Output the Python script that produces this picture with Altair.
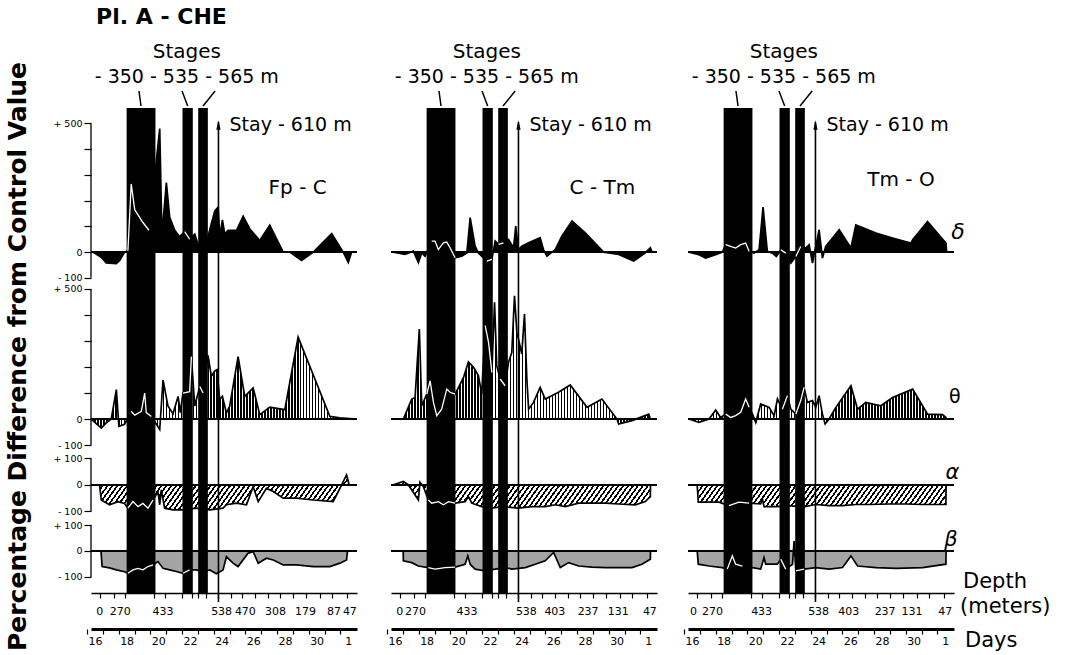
import altair as alt
import pandas as pd

FONT = "DejaVu Sans"

# ------------------------------------------------------------------ data
COLUMN_NAMES = ["Fp - C", "C - Tm", "Tm - O"]
LABEL_DAY = [28.8, 29.1, 29.2]
LABEL_VAL = [250, 250, 280]

STAGE_LABELS = "- 350 - 535 - 565 m"
STAGE_START = [18.00, 21.53, 22.52]
STAGE_END = [19.82, 22.18, 23.13]
LEADER_TOP = [18.78, 21.50, 23.59]
STAY_DAY = [23.80]

DAY_TICKS = list(range(16, 34))
DEPTH_TICKS = [16.3, 17.2, 17.9, 19.7, 20.4, 21.5, 22.1, 22.5, 23.0, 23.8, 24.6,
               25.3, 26.1, 26.9, 27.7, 28.5, 29.3, 30.2, 31.0, 31.9]
DEPTH_LABELS = [["0", "270", "433", "538", "470", "308", "179", "87", "47"],
                ["0", "270", "433", "538", "403", "237", "131", "47"],
                ["0", "270", "433", "538", "403", "237", "131", "47"]]
DEPTH_LABEL_DAYS = [[16.3, 17.6, 20.3, 24.0, 25.5, 27.4, 29.3, 31.1, 32.1],
                    [16.3, 17.3, 20.55, 24.3, 26.1, 28.2, 30.1, 32.1],
                    [16.1, 17.3, 20.4, 24.0, 25.9, 28.2, 29.9, 32.0]]

# Fp-C
FPC_D_DAY = [15.87, 16.40, 16.71, 17.35, 17.56, 17.87, 18.08, 18.29, 18.51, 19.03, 19.41, 20.09, 20.23, 20.51,
             20.72, 21.04, 21.35, 21.67, 21.98, 22.30, 22.51, 22.83, 23.14, 23.35, 23.57, 23.78, 23.88, 24.05,
             24.20, 24.41, 24.94, 25.36, 25.78, 26.41, 27.04, 27.89, 28.31, 29.05, 29.79, 30.95, 31.68, 32.00, 32.21]
FPC_D_VAL = [0, -20, -42, -45, -32, 0, 5, 265, 165, 115, 85, 480, 65, 270, 135, 85, 60, 80, 50, 70, 30, 25, 60,
             110, 160, 175, 60, 125, 70, 85, 85, 140, 90, 45, 105, 0, 0, -32, 0, 72, 0, -40, 0]
FPC_T_DAY = [15.76, 16.40, 16.71, 17.03, 17.35, 17.51, 17.87, 18.29, 18.51, 18.93, 19.14, 19.24, 19.56, 19.88,
             20.09, 20.30, 20.61, 20.93, 21.25, 21.39, 21.56, 21.98, 22.09, 22.30, 22.62, 22.83, 23.14, 23.35,
             23.57, 23.71, 23.88, 24.05, 24.30, 24.51, 25.04, 25.46, 25.99, 26.41, 27.04, 27.99, 28.83, 30.84,
             31.47, 32.53]
FPC_T_VAL = [0, -35, -15, 0, 113, -28, -20, 30, 15, 30, 100, 25, 10, -20, -40, 150, 50, 20, 87, 25, 100, 105,
             240, 50, 125, 100, 245, 165, 185, 190, 75, 87, 23, 50, 240, 87, 120, 17, 46, 36, 315, 10, 5, 0]
FPC_A_DAY = [16.29, 16.40, 16.92, 17.45, 17.87, 18.08, 18.40, 18.72, 19.03, 19.35, 19.67, 19.98, 20.09, 20.19,
             20.40, 20.93, 21.56, 22.41, 23.25, 24.09, 24.30, 24.94, 25.57, 25.99, 26.31, 26.83, 27.26, 27.89,
             28.73, 29.79, 31.05, 31.58, 31.89, 32.00, 32.05]
FPC_A_VAL = [0, -57, -75, -63, -70, -88, -63, -82, -70, -88, -57, -25, -75, -19, -88, -94, -94, -88, -94, -88,
             -75, -69, -75, -6, -63, -13, -25, -50, -50, -57, -63, 0, 38, 13, 0]
FPC_B_DAY = [16.38, 16.45, 16.92, 17.35, 17.87, 18.08, 18.40, 18.72, 19.03, 19.35, 19.67, 19.98, 20.30, 20.72,
             21.14, 21.56, 21.98, 22.41, 22.83, 23.25, 23.67, 24.09, 24.30, 24.72, 25.04, 25.67, 25.99, 26.31,
             26.83, 27.26, 27.89, 28.73, 29.79, 30.84, 31.47, 31.89, 31.95]
FPC_B_VAL = [0, -60, -65, -73, -80, -86, -73, -67, -73, -60, -54, -41, -67, -73, -79, -86, -73, -73, -79, -73,
             -88, -73, -22, -47, -60, -9, -3, -47, -28, -35, -54, -54, -60, -60, -47, -35, 0]

# C-Tm
CTM_D_DAY = [15.90, 16.63, 17.16, 17.48, 17.69, 17.90, 18.32, 18.53, 18.74, 19.06, 19.27, 19.48, 19.80, 20.22,
             20.54, 20.75, 21.06, 21.27, 21.48, 21.80, 22.12, 22.33, 22.54, 22.85, 23.17, 23.49, 23.63, 23.80,
             24.01, 24.44, 25.17, 25.38, 25.60, 26.12, 26.54, 27.18, 28.02, 29.18, 30.13, 31.08, 31.81, 32.13, 32.24]
CTM_D_VAL = [0, -9, 4, -41, -3, -16, 43, 43, 10, 36, 39, 17, -22, -16, -3, 134, 23, -3, -16, -35, -28, 43, 30,
             36, 49, 17, 101, 10, 23, 36, 56, 10, -16, 10, 62, 121, 75, 0, -9, -35, -3, 17, 0]
CTM_T_DAY = [15.90, 16.53, 17.06, 17.27, 17.54, 17.69, 18.01, 18.22, 18.43, 18.64, 18.95, 19.27, 19.48, 19.80,
             20.33, 20.64, 20.96, 21.27, 21.48, 21.70, 21.91, 22.12, 22.29, 22.43, 22.64, 22.96, 23.17, 23.38,
             23.55, 23.70, 23.80, 24.01, 24.18, 24.33, 24.44, 24.75, 25.17, 25.49, 26.33, 27.07, 28.13, 29.07,
             30.02, 30.13, 30.97, 32.03, 32.13]
CTM_T_VAL = [0, 0, 77, 83, 346, 51, 96, 147, 64, 13, 38, 115, 103, 96, 160, 220, 199, 167, 96, 359, 295, 179,
             449, 205, 154, 128, 218, 256, 474, 333, 308, 250, 404, 154, 38, 64, 122, 77, 103, 131, 45, 77, 0,
             -19, -6, 19, 0]
CTM_A_DAY = [15.90, 16.53, 16.85, 17.48, 17.58, 17.79, 18.11, 18.32, 18.74, 19.06, 19.38, 19.80, 20.43, 20.64,
             20.85, 21.48, 22.12, 22.75, 23.80, 24.65, 25.49, 26.12, 26.76, 27.60, 28.44, 29.29, 30.13, 31.18,
             31.81, 32.13, 32.14]
CTM_A_VAL = [0, 13, 0, -57, 10, -6, -57, -69, -63, -75, -63, -69, -63, -44, -69, -82, -88, -82, -88, -82, -82,
             -75, -82, -69, -69, -69, -72, -75, -63, -44, 0]
CTM_B_DAY = [16.52, 16.53, 17.06, 17.48, 18.11, 18.53, 19.17, 19.80, 20.43, 20.60, 20.75, 21.06, 21.70, 22.33,
             22.96, 23.38, 24.23, 24.86, 25.49, 26.02, 26.44, 26.97, 27.60, 28.44, 29.29, 30.13, 30.97, 31.60,
             32.13, 32.14]
CTM_B_VAL = [0, -38, -45, -58, -64, -70, -64, -62, -51, -19, -51, -70, -77, -70, -64, -70, -64, -51, -38, -6,
             -64, -45, -58, -62, -64, -64, -64, -51, -32, 0]

# Tm-O
TMO_D_DAY = [15.81, 16.44, 16.86, 17.50, 17.92, 18.13, 18.45, 18.76, 19.08, 19.39, 19.61, 19.92, 20.24, 20.49,
             20.76, 21.08, 21.33, 21.61, 21.92, 22.24, 22.56, 22.87, 23.19, 23.40, 23.61, 23.82, 24.03, 24.24,
             24.45, 25.30, 26.04, 26.35, 27.62, 28.67, 29.83, 29.94, 30.88, 32.04, 32.09]
TMO_D_VAL = [0, -10, -23, -10, 0, 29, 22, 16, 29, 35, 3, -4, 9, 175, 3, -4, -17, 9, -4, -43, -17, 22, 16, 29,
             -43, 22, 87, -23, 22, 87, 16, 106, 74, 55, 35, 48, 119, 35, 0]
TMO_T_DAY = [15.81, 16.44, 17.08, 17.50, 17.81, 18.13, 18.45, 18.76, 19.08, 19.39, 19.61, 19.82, 20.03, 20.34,
             20.87, 21.19, 21.40, 21.71, 22.03, 22.24, 22.56, 22.87, 23.08, 23.29, 23.61, 23.82, 24.03, 24.24,
             24.41, 24.66, 25.09, 26.04, 26.46, 26.98, 27.93, 28.67, 29.94, 30.88, 31.83, 32.04, 32.05]
TMO_T_VAL = [0, -13, 0, 35, 6, 19, 6, 13, 26, 77, 45, 19, -13, 58, 45, 13, 77, 38, 90, 38, 19, 71, 122, 64, 71,
             45, 90, 19, -19, 0, 45, 128, 38, 64, 51, 83, 115, 19, 17, 6, 0]
TMO_A_DAY = [16.33, 16.40, 17.08, 17.71, 18.34, 18.97, 19.61, 20.34, 20.45, 20.55, 21.29, 22.14, 22.98, 23.82,
             24.66, 25.51, 26.35, 27.20, 28.46, 29.51, 30.57, 32.04, 32.05]
TMO_A_VAL = [0, -65, -65, -65, -78, -65, -69, -72, -53, -82, -82, -78, -84, -74, -78, -78, -74, -74, -72, -72,
             -74, -74, 0]
TMO_B_DAY = [16.33, 16.40, 17.08, 17.92, 18.23, 18.55, 18.76, 19.18, 19.82, 20.34, 20.55, 20.66, 21.40, 21.61,
             21.92, 22.35, 22.45, 22.56, 23.08, 23.82, 24.66, 25.51, 26.04, 26.46, 27.62, 28.88, 30.57, 32.04, 32.05]
TMO_B_VAL = [0, -51, -58, -64, -70, -19, -51, -58, -64, -70, -26, -51, -51, -32, -70, -51, 38, -77, -70, -64,
             -70, -64, -19, -58, -64, -67, -64, -51, 0]

SERIES = [
    [(FPC_D_DAY, FPC_D_VAL), (FPC_T_DAY, FPC_T_VAL), (FPC_A_DAY, FPC_A_VAL), (FPC_B_DAY, FPC_B_VAL)],
    [(CTM_D_DAY, CTM_D_VAL), (CTM_T_DAY, CTM_T_VAL), (CTM_A_DAY, CTM_A_VAL), (CTM_B_DAY, CTM_B_VAL)],
    [(TMO_D_DAY, TMO_D_VAL), (TMO_T_DAY, TMO_T_VAL), (TMO_A_DAY, TMO_A_VAL), (TMO_B_DAY, TMO_B_VAL)],
]
for col in SERIES:
    for d, v in col:
        assert len(d) == len(v)

# ------------------------------------------------------------------ layout / style
X_DOMAIN = [15.75, 32.55]
W = 266
H_HEAD, H_SCALE = 108, 36
PX_PER_DAY = W / (X_DOMAIN[1] - X_DOMAIN[0])

BANDS = [
    dict(key="delta", symbol="δ", domain=[-120, 560], height=175, ticks=[-100, 0, 100, 200, 300, 400, 500],
         top=500, sym_day=32.8, sym_val=80, sym_size=22, sym_style="italic"),
    dict(key="theta", symbol="θ", domain=[-119, 523], height=167, ticks=[-100, 0, 100, 200, 300, 400, 500],
         top=500, sym_day=32.6, sym_val=85, sym_size=19, sym_style="normal"),
    dict(key="alpha", symbol="α", domain=[-125, 132], height=68, ticks=[-100, 0, 100],
         top=100, sym_day=32.45, sym_val=45, sym_size=21, sym_style="italic"),
    dict(key="beta", symbol="β", domain=[-162, 127], height=75, ticks=[-100, 0, 100],
         top=100, sym_day=32.35, sym_val=42, sym_size=21, sym_style="italic"),
]


def stripes(n, frac, x2, y2, dark="black", light="white"):
    stops = []
    for i in range(n):
        a, b, c = i / n, (i + frac) / n, (i + 1) / n
        stops += [alt.GradientStop(color=dark, offset=a), alt.GradientStop(color=dark, offset=b),
                  alt.GradientStop(color=light, offset=b), alt.GradientStop(color=light, offset=c)]
    return alt.LinearGradient(gradient="linear", stops=stops, x1=0, y1=0, x2=x2, y2=y2)


def fill_for(band, days, vals):
    w = (max(days) - min(days)) * PX_PER_DAY
    if band["key"] == "delta":
        return "black"
    if band["key"] == "theta":
        return stripes(max(10, round(w / 3.0)), 0.5, 1, 0)
    if band["key"] == "alpha":
        px_val = band["height"] / (band["domain"][1] - band["domain"][0])
        h = (max(max(vals), 0) - min(min(vals), 0)) * px_val
        k = 1.4
        b = h / (k * w)
        c = (1 + b) / (1 + b * b)
        n = max(10, round(w * c * (1 + b * b) / (4.0 * (1 + 1 / k ** 2) ** 0.5)))
        return stripes(n, 0.42, c, c * b)
    return "#a4a4a4"


XS = alt.Scale(domain=X_DOMAIN, nice=False, zero=False)


def xq(field, axis=None):
    return alt.X(field, type="quantitative", scale=XS, axis=axis)


STAGE_DF = pd.DataFrame({"start": STAGE_START, "end": STAGE_END,
                         "top": LEADER_TOP,
                         "mid": [(s + e) / 2 for s, e in zip(STAGE_START, STAGE_END)]})
STAY_DF = pd.DataFrame({"day": STAY_DAY})


def inside_bars(days, vals):
    rows = []
    for d, v in zip(days, vals):
        for i, (s, e) in enumerate(zip(STAGE_START, STAGE_END)):
            if s < d < e:
                rows.append({"day": d, "v": v, "seg": i})
    if not rows:
        return pd.DataFrame({"day": [0.0], "v": [0.0], "seg": [-1]}).iloc[0:0]
    return pd.DataFrame(rows)


DEPTH_AXIS = alt.Axis(values=DEPTH_TICKS, labels=False, domainColor="black", domainWidth=1.5,
                      tickColor="black", tickSize=5, tickWidth=1.2, title=None, grid=False)

DAYS_AXIS = alt.Axis(values=DAY_TICKS, tickOffset=-PX_PER_DAY / 2, labelOffset=PX_PER_DAY / 2,
                     labelExpr="datum.value % 2 == 0 && datum.value <= 32 ? (datum.value == 32 ? '1' : datum.label) : ''",
                     domainColor="black", domainWidth=3, tickColor="black", tickWidth=1.2, tickSize=5,
                     labelFontSize=11, labelPadding=1, labelColor="black", labelFont=FONT,
                     labelOverlap=False, labelFlush=False, title=None, grid=False)


def band_panel(ci, band, days, vals):
    H = band["height"]
    ys = alt.Scale(domain=band["domain"], nice=False, zero=False)
    top = band["top"]
    if ci == 0:
        yaxis = alt.Axis(values=band["ticks"], domain=False, tickColor="black", tickSize=7, tickWidth=1.2,
                         labelExpr=f"datum.value == {top} ? '+ {top}' : datum.value == 0 ? '0' : "
                                   f"datum.value == -100 ? '- 100' : ''",
                         labelFontSize=9.5, labelColor="black", labelFont=FONT, labelPadding=2,
                         labelOverlap=False, title=None, grid=False)
    else:
        yaxis = None
    xaxis = DEPTH_AXIS if band["key"] == "beta" else None

    def X(f):
        return xq(f, xaxis)

    def Y(f):
        return alt.Y(f, type="quantitative", scale=ys, axis=yaxis)

    df = pd.DataFrame({"day": days, "v": vals})
    layers = [
        alt.Chart(df).mark_area(fill=fill_for(band, days, vals), interpolate="linear").encode(
            x=X("day"), y=Y("v"), y2=alt.datum(0)),
        alt.Chart(pd.DataFrame({"z": [0]})).mark_rule(color="black", strokeWidth=2).encode(y=Y("z")),
        alt.Chart(df).mark_line(color="black", strokeWidth=1.7, interpolate="linear").encode(
            x=X("day"), y=Y("v")),
        alt.Chart(STAGE_DF).mark_rect(color="black").encode(
            x=X("start"), x2="end:Q", y=alt.value(0), y2=alt.value(H)),
        alt.Chart(STAY_DF).mark_rule(color="black", strokeWidth=1.6).encode(
            x=X("day"), y=alt.value(14 if band["key"] == "delta" else 0), y2=alt.value(H)),
        alt.Chart(inside_bars(days, vals)).mark_line(color="white", strokeWidth=1.3).encode(
            x=X("day"), y=Y("v"), detail="seg:N"),
    ]
    if ci == 0:
        layers.append(alt.Chart(pd.DataFrame({"lo": [-100], "hi": [top]})).mark_rule(
            color="black", strokeWidth=1.3).encode(x=alt.value(0), y=Y("lo"), y2="hi:Q"))
    if band["key"] == "delta":
        layers.append(alt.Chart(STAY_DF).mark_point(
            shape="M -0.45 1 L 0 -1 L 0.45 1 Z", filled=True, color="black", size=90, opacity=1).encode(
            x=X("day"), y=alt.value(17)))
        layers.append(alt.Chart(pd.DataFrame({"day": [24.5], "v": [493], "t": ["Stay - 610 m"]})).mark_text(
            font=FONT, fontSize=19, align="left", baseline="middle", color="black").encode(
            x=X("day"), y=Y("v"), text="t:N"))
        layers.append(alt.Chart(pd.DataFrame({"day": [LABEL_DAY[ci]], "v": [LABEL_VAL[ci]],
                                              "t": [COLUMN_NAMES[ci]]})).mark_text(
            font=FONT, fontSize=20, align="center", baseline="middle", color="black").encode(
            x=X("day"), y=Y("v"), text="t:N"))
    if ci == 2:
        layers.append(alt.Chart(pd.DataFrame({"day": [band["sym_day"]], "v": [band["sym_val"]],
                                              "t": [band["symbol"]]})).mark_text(
            font=FONT, fontSize=band["sym_size"], fontStyle=band["sym_style"], align="center",
            baseline="middle", color="black").encode(x=X("day"), y=Y("v"), text="t:N"))
        if band["key"] == "beta":
            layers.append(alt.Chart(pd.DataFrame({"t": ["Depth"]})).mark_text(
                font=FONT, fontSize=21, align="left", baseline="middle", color="black").encode(
                x=alt.value(W + 9), y=alt.value(64), text="t:N"))
    return alt.layer(*layers).properties(width=W, height=H)


def header_panel(ci):
    layers = [
        alt.Chart(pd.DataFrame({"day": [21.8], "t": ["Stages"]})).mark_text(
            font=FONT, fontSize=20, align="center", baseline="middle", color="black").encode(
            x=xq("day"), y=alt.value(52), text="t:N"),
        alt.Chart(pd.DataFrame({"day": [21.8], "t": [STAGE_LABELS]})).mark_text(
            font=FONT, fontSize=19, align="center", baseline="middle", color="black").encode(
            x=xq("day"), y=alt.value(77), text="t:N"),
        alt.Chart(STAGE_DF).mark_rule(color="black", strokeWidth=1.5).encode(
            x=xq("top"), x2="mid:Q", y=alt.value(91), y2=alt.value(106)),
    ]
    if ci == 0:
        layers.append(alt.Chart(pd.DataFrame({"day": [20.2], "t": ["Pl. A - CHE"]})).mark_text(
            font=FONT, fontSize=22, fontWeight="bold", align="center", baseline="middle", color="black").encode(
            x=xq("day"), y=alt.value(17), text="t:N"))
    return alt.layer(*layers).properties(width=W, height=H_HEAD)


def scale_panel(ci):
    ddf = pd.DataFrame({"day": DEPTH_LABEL_DAYS[ci], "t": DEPTH_LABELS[ci]})
    layers = [
        alt.Chart(ddf).mark_text(font=FONT, fontSize=11, align="center", baseline="middle",
                                 color="black").encode(x=xq("day", DAYS_AXIS), y=alt.value(19), text="t:N"),
        alt.Chart(STAY_DF).mark_rule(color="black", strokeWidth=1.6).encode(
            x=xq("day", DAYS_AXIS), y=alt.value(0), y2=alt.value(9)),
    ]
    if ci == 2:
        layers.append(alt.Chart(pd.DataFrame({"t": ["(meters)"]})).mark_text(
            font=FONT, fontSize=21, align="left", baseline="middle", color="black").encode(
            x=alt.value(W + 6), y=alt.value(14), text="t:N"))
        layers.append(alt.Chart(pd.DataFrame({"t": ["Days"]})).mark_text(
            font=FONT, fontSize=21, align="left", baseline="middle", color="black").encode(
            x=alt.value(W + 11), y=alt.value(48), text="t:N"))
    return alt.layer(*layers).properties(width=W, height=H_SCALE)


def column(ci):
    panels = [header_panel(ci)]
    for band, (d, v) in zip(BANDS, SERIES[ci]):
        panels.append(band_panel(ci, band, d, v))
    panels.append(scale_panel(ci))
    return alt.vconcat(*panels, spacing=0, bounds="flush")


chart = alt.hconcat(column(0), column(1), column(2), spacing=25).properties(
    title=alt.TitleParams("Percentage Difference from Control Value", orient="left", anchor="start",
                          fontSize=25, fontWeight="bold", font=FONT, color="black", offset=22),
    padding={"left": 5, "top": 0, "right": 0, "bottom": 0},
    background="white",
).configure_view(stroke=None)

chart.save("out.html", embed_options={"renderer": "svg", "actions": False})
